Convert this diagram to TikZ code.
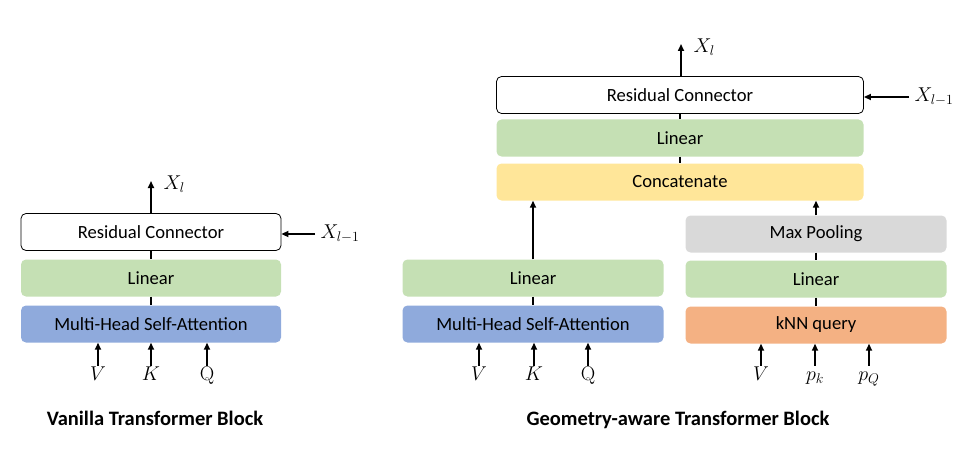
\documentclass[tikz,border=0pt]{standalone}
\usepackage{fix-cm}
\usepackage{amsmath}
\usepackage[no-math]{fontspec}
\setmainfont{Carlito}
\usepackage{xcolor}
\usepackage{tikz}
\usetikzlibrary{arrows.meta}
\usetikzlibrary{shapes}

\definecolor{lingreen}{HTML}{C5E0B4}
\definecolor{attblue}{HTML}{8FAADC}
\definecolor{catyellow}{HTML}{FFE699}
\definecolor{poolgray}{HTML}{D9D9D9}
\definecolor{knnorange}{HTML}{F4B183}

\tikzset{
    block/.style = {rectangle, rounded corners = 5pt, minimum height = 37pt,
        inner sep = 0pt, font = \fontsize{18.6}{22}\selectfont},
    resbox/.style = {block, draw = black, line width = 0.8pt, fill = white},
    inlabel/.style = {font = \fontsize{20}{24}\selectfont, text height = 13pt,
        text depth = 4pt, inner sep = 1pt, anchor = base},
    outlabel/.style = {font = \fontsize{20}{24}\selectfont, anchor = west},
    arr/.style = {line width = 1.6pt, -{Triangle[length = 7pt, width = 6pt]}},
    link/.style = {line width = 1.6pt},
    title/.style = {font = \fontsize{20.5}{24}\selectfont\bfseries}
}

\begin{document}
\begin{tikzpicture}[x = 1pt, y = -1pt]
        \useasboundingbox (0, 0) rectangle (968, 468);

        % vanilla block
        \node[resbox, minimum width = 260pt] (resL) at (151, 232) {Residual Connector};
        \node[block, fill = lingreen, minimum width = 260pt] (linL) at (151, 278) {Linear};
        \node[block, fill = attblue, minimum width = 260pt] (mhsaL) at (151, 324) {Multi-Head Self-Attention};

        \node[inlabel] (vL) at (98, 380) {$V$};
        \node[inlabel] (kL) at (151, 380) {$K$};
        \node[inlabel] (qL) at (207, 380) {$\mathrm{Q}$};

        \coordinate (topL) at (151, 181);
        \node[outlabel] (xlL) at (160, 184) {$X_l$};
        \node[outlabel] (xpL) at (317, 234) {$X_{l-1}$};

        \draw [link] (resL) -- (linL);
        \draw [link] (linL) -- (mhsaL);
        \draw [arr] (resL) -- (topL);
        \draw [arr, shorten < = 2pt] (xpL.west) -- (resL.east |- xpL.west);
        \draw [arr] (vL) -- (vL |- mhsaL.south);
        \draw [arr] (kL) -- (kL |- mhsaL.south);
        \draw [arr] (qL) -- (qL |- mhsaL.south);

        \node[title] (titleL) at (155, 418) {Vanilla Transformer Block};

        % geometry-aware block
        \node[resbox, minimum width = 367pt] (resR) at (680, 95) {Residual Connector};
        \node[block, fill = lingreen, minimum width = 367pt] (linR) at (680, 138) {Linear};
        \node[block, fill = catyellow, minimum width = 367pt] (cat) at (680, 182) {Concatenate};

        \node[block, fill = lingreen, minimum width = 261pt] (linM) at (533, 278) {Linear};
        \node[block, fill = attblue, minimum width = 261pt] (mhsaM) at (533, 324) {Multi-Head Self-Attention};

        \node[block, fill = poolgray, minimum width = 261pt] (pool) at (816, 234) {Max Pooling};
        \node[block, fill = lingreen, minimum width = 261pt] (linK) at (816, 279) {Linear};
        \node[block, fill = knnorange, minimum width = 261pt] (knn) at (816, 325) {kNN query};

        \node[inlabel] (vM) at (479, 380) {$V$};
        \node[inlabel] (kM) at (534, 380) {$K$};
        \node[inlabel] (qM) at (588, 380) {$\mathrm{Q}$};
        \node[inlabel] (vK) at (761, 380) {$V$};
        \node[inlabel] (pk) at (815, 380) {$p_k$};
        \node[inlabel] (pq) at (869, 380) {$p_Q$};

        \coordinate (topR) at (681, 44);
        \node[outlabel] (xlR) at (690, 47) {$X_l$};
        \node[outlabel] (xpR) at (911, 97) {$X_{l-1}$};

        \draw [link] (resR) -- (linR);
        \draw [link] (linR) -- (cat);
        \draw [arr] (resR.north -| topR) -- (topR);
        \draw [arr, shorten < = 2pt] (xpR.west) -- (resR.east |- xpR.west);
        \draw [arr] (linM) -- (linM |- cat.south);
        \draw [arr] (pool) -- (pool |- cat.south);
        \draw [link] (linM) -- (mhsaM);
        \draw [link] (pool) -- (linK);
        \draw [link] (linK) -- (knn);
        \draw [arr] (vM) -- (vM |- mhsaM.south);
        \draw [arr] (kM) -- (kM |- mhsaM.south);
        \draw [arr] (qM) -- (qM |- mhsaM.south);
        \draw [arr] (vK) -- (vK |- knn.south);
        \draw [arr] (pk) -- (pk |- knn.south);
        \draw [arr] (pq) -- (pq |- knn.south);

        \node[title] (titleR) at (678, 420) {Geometry-aware Transformer Block};
    \end{tikzpicture}
\end{document}
